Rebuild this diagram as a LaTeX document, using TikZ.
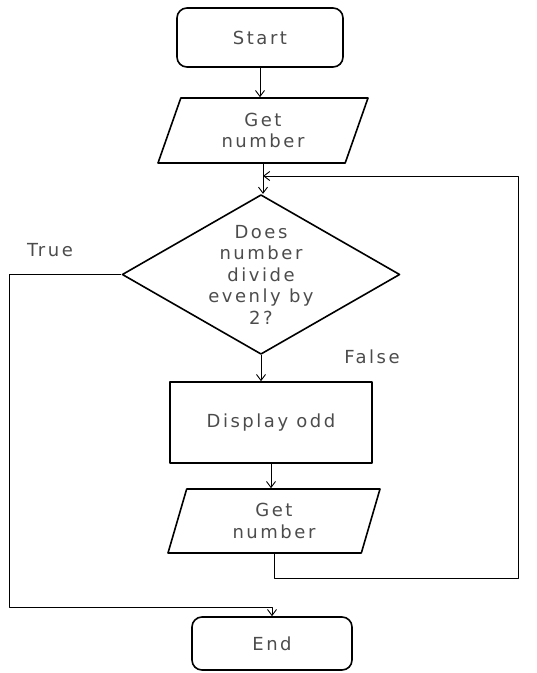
\documentclass[tikz,border=0pt]{standalone}
\usepackage{fontspec}
\setmainfont{DejaVu Sans}[LetterSpace=14]
\usetikzlibrary{shapes.geometric,arrows.meta}
\begin{document}
\begin{tikzpicture}[x=1pt,y=-1pt,>={Straight Barb[length=6pt,width=9pt]},line join=round,line width=0.9pt,
		font=\fontsize{18}{21.5}\selectfont,every node/.style={text=black!70},
		term/.style={draw=black,line width=1.6pt,rounded corners=10pt},
		io/.style={trapezium,trapezium stretches body,draw=black,line width=1.6pt,inner sep=0pt,align=center},
		dec/.style={diamond,draw=black,line width=1.6pt,aspect=1.74,inner sep=0pt,align=center},
		proc/.style={draw=black,line width=1.6pt}]
	\useasboundingbox (0,0) rectangle (537,673);
	% boxes
	\node[term,minimum width=166pt,minimum height=59pt] (start) at (260,37.5) {Start};
	\node[io,trapezium left angle=57,trapezium right angle=123,minimum width=210pt,minimum height=65pt] (get) at (263,130.5) {Get\\number};
	\node[dec,minimum width=272pt,minimum height=156pt] (test) at (261,274.5) {Does\\number\\divide\\evenly by\\2?};
	\node[proc,minimum width=202pt,minimum height=81pt] (odd) at (271,422.5) {Display odd};
	\node[io,trapezium left angle=62,trapezium right angle=118,minimum width=212pt,minimum height=64pt] (getagain) at (274,521) {Get\\number};
	\node[term,minimum width=160pt,minimum height=53pt] (end) at (272,643.5) {End};
	\node (truelbl) at (50,250) {True};
	\node (falselbl) at (372,357) {False};
	% connectors
	\coordinate (loopR) at (518,176);
	\coordinate (loopL) at (9,607);
	\draw[->] (start.south) -- (start.south |- get.north);
	\draw[->] (get.south) -- (get.south |- test.north);
	\draw[->] (test.south) -- (test.south |- odd.north);
	\draw[->] (odd.south) -- (odd.south |- getagain.north);
	\draw[->] (getagain.south) -- ++(0,25) -| (loopR) -- (loopR -| get.south);
	\draw[->] (test.west) -| (loopL) -| (end.north);
\end{tikzpicture}
\end{document}
